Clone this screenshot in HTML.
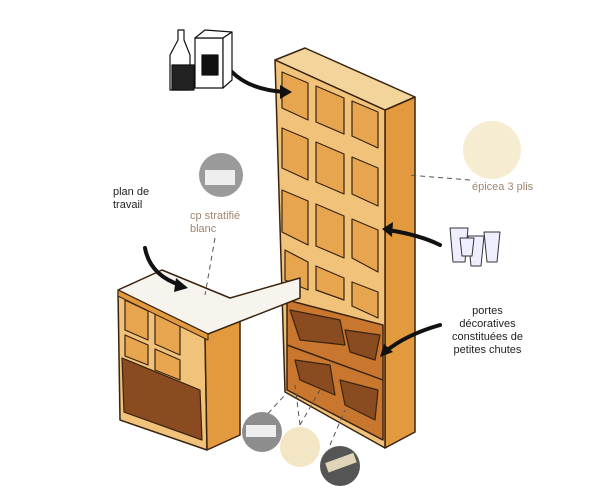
<!DOCTYPE html>
<html><head><meta charset="utf-8"><style>
html,body{margin:0;padding:0;background:#fff;width:600px;height:500px;overflow:hidden}
.t{font-family:"Liberation Sans",sans-serif;font-size:11px;line-height:13px;position:absolute}
</style></head><body>
<svg width="600" height="500" style="position:absolute;left:0;top:0" stroke-linejoin="round">
<polygon points="385,110 415,97 415,432 385,448" fill="#e39a3e" stroke="#3a2410" stroke-width="1.5"/>
<polygon points="275,60 305,48 415,97 385,110" fill="#f3d49b" stroke="#3a2410" stroke-width="1.5"/>
<polygon points="275,60 385,110 385,448 285,392" fill="#f0c27a" stroke="#3a2410" stroke-width="1.5"/>
<g fill="#e8a550" stroke="#3a2410" stroke-width="1.2">
<polygon points="282,72 308,83 308,120 282,108"/><polygon points="316,86 344,98 344,134 316,122"/><polygon points="352,101 378,112 378,148 352,136"/>
<polygon points="282,128 308,139 308,180 282,168"/><polygon points="316,142 344,154 344,194 316,182"/><polygon points="352,157 378,168 378,206 352,194"/>
<polygon points="282,190 308,201 308,245 282,232"/><polygon points="316,204 344,216 344,258 316,246"/><polygon points="352,219 378,230 378,272 352,258"/>
<polygon points="285,250 308,262 308,290 285,280"/><polygon points="316,266 344,278 344,300 316,290"/><polygon points="352,282 378,292 378,318 352,306"/>
</g>
<polygon points="287,300 383,325 383,440 287,390" fill="#c9762e" stroke="#3a2410" stroke-width="1.5"/>
<g stroke="#3a2410" stroke-width="1.2" fill="#8a4b20">
<polygon points="290,310 340,320 345,345 300,340"/><polygon points="345,330 380,335 375,360 350,352"/>
<polygon points="295,360 330,365 335,395 300,380"/><polygon points="340,380 378,390 375,420 345,405"/>
</g>
<line x1="287" y1="345" x2="383" y2="380" stroke="#3a2410" stroke-width="1.5"/>
<polygon points="118,292 205,335 207,450 120,420" fill="#f0c27a" stroke="#3a2410" stroke-width="1.5"/>
<polygon points="205,335 240,320 240,435 207,450" fill="#e39a3e" stroke="#3a2410" stroke-width="1.5"/>
<g fill="#e8a550" stroke="#3a2410" stroke-width="1.2">
<polygon points="125,300 148,311 148,340 125,330"/><polygon points="155,314 180,326 180,355 155,344"/>
<polygon points="125,335 148,345 148,365 125,356"/><polygon points="155,349 180,360 180,380 155,370"/>
</g>
<polygon points="122,358 200,390 202,440 124,412" fill="#8a4b20" stroke="#3a2410" stroke-width="1.2"/>
<polygon points="118,290 162,270 230,298 300,278 300,298 208,334" fill="#f7f4ee" stroke="#3a2410" stroke-width="1.5"/>
<polygon points="118,290 208,334 208,340 118,296" fill="#e39a3e" stroke="#3a2410" stroke-width="1"/>
<g fill="none" stroke="#111" stroke-width="4" stroke-linecap="round">
<path d="M232,72 Q250,90 285,92"/><path d="M145,248 Q150,275 180,285"/>
<path d="M440,245 Q420,235 388,230"/><path d="M440,325 Q405,335 385,352"/>
</g>
<g fill="#111"><polygon points="292,92 280,85 280,99"/><polygon points="188,288 176,278 174,292"/>
<polygon points="382,229 393,222 392,237"/><polygon points="380,357 384,344 393,352"/></g>
<g stroke="#555" stroke-width="1" stroke-dasharray="5,4" fill="none">
<line x1="215" y1="238" x2="205" y2="295"/><line x1="470" y1="180" x2="408" y2="175"/>
<line x1="300" y1="425" x2="295" y2="385"/><line x1="300" y1="425" x2="320" y2="390"/>
<line x1="262" y1="420" x2="285" y2="395"/><line x1="330" y1="445" x2="345" y2="410"/>
</g>
<circle cx="492" cy="150" r="29" fill="#f6ecd2"/>
<circle cx="221" cy="175" r="22" fill="#9a9a9a"/><rect x="205" y="170" width="30" height="15" fill="#eee"/>
<circle cx="262" cy="432" r="20" fill="#8d8d8d"/><rect x="246" y="425" width="30" height="12" fill="#eee"/>
<circle cx="300" cy="447" r="20" fill="#f3e6c4"/>
<circle cx="340" cy="466" r="20" fill="#555"/><rect x="326" y="458" width="30" height="10" fill="#e0d5b8" transform="rotate(-20 340 463)"/>
<g stroke="#111" stroke-width="1.2" fill="#fff">
<path d="M170,55 L178,40 L178,30 L184,30 L184,40 L190,55 L190,90 L170,90 Z"/>
<rect x="195" y="38" width="28" height="50"/><polygon points="195,38 205,30 232,32 223,38"/>
<polygon points="223,38 232,32 232,80 223,88"/>
<rect x="202" y="55" width="16" height="20" fill="#111"/>
<rect x="172" y="65" width="22" height="25" fill="#222"/>
</g>
<g stroke="#333" stroke-width="1" fill="#eef">
<path d="M450,228 L468,228 L465,262 L453,262 Z"/><path d="M468,236 L484,236 L481,266 L471,266 Z"/>
<path d="M484,232 L500,232 L497,262 L487,262 Z"/><path d="M460,238 L474,238 L472,256 L462,256 Z"/>
</g>
</svg>
<div class="t" style="left:113px;top:186px;color:#222">plan de<br>travail</div>
<div class="t" style="left:190px;top:210px;color:#a08670">cp stratifié<br>blanc</div>
<div class="t" style="left:472px;top:181px;color:#a08670">épicea 3 plis</div>
<div class="t" style="left:452px;top:305px;color:#222;text-align:center">portes<br>décoratives<br>constituées de<br>petites chutes</div>
</body></html>
